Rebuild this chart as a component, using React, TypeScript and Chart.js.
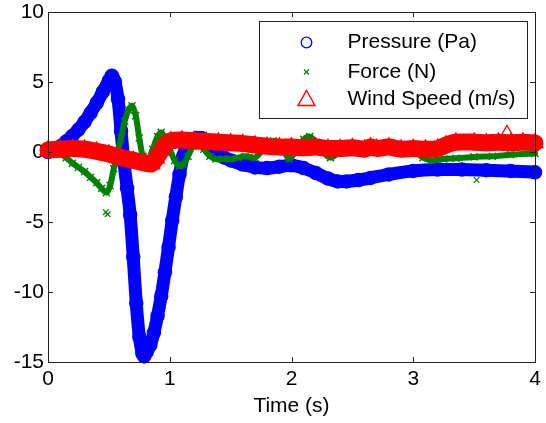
import React, { useEffect, useRef } from 'react';
import { Chart, registerables } from 'chart.js';

Chart.register(...registerables);

// ---------------- data ----------------
const pressureTime = [0, 0.05, 0.1, 0.15, 0.2, 0.25, 0.3, 0.35, 0.4, 0.45, 0.5, 0.525, 0.55, 0.575, 0.6, 0.625, 0.65, 0.675, 0.7, 0.725, 0.75, 0.775, 0.79, 0.81, 0.84, 0.87, 0.9, 0.93, 0.96, 0.99, 1.02, 1.05, 1.08, 1.11, 1.14, 1.18, 1.22, 1.26, 1.3, 1.35, 1.4, 1.45, 1.5, 1.6, 1.7, 1.8, 1.9, 2.0, 2.1, 2.2, 2.3, 2.38, 2.45, 2.55, 2.65, 2.8, 3.0, 3.2, 3.4, 3.6, 3.8, 4.0];
const pressureValue = [0, 0.15, 0.4, 0.75, 1.15, 1.6, 2.15, 2.8, 3.5, 4.3, 5.1, 5.45, 5.0, 3.8, 1.5, -0.8, -2.6, -4.5, -7.5, -10.8, -13.2, -14.4, -14.6, -14.3, -13.8, -12.9, -11.7, -10.3, -8.6, -6.8, -4.9, -3.2, -1.6, -0.3, 0.5, 0.9, 1.0, 1.0, 0.7, 0.3, -0.2, -0.4, -0.6, -0.9, -1.1, -1.15, -1.05, -0.95, -1.15, -1.5, -1.9, -2.1, -2.1, -2.0, -1.85, -1.6, -1.35, -1.25, -1.25, -1.3, -1.35, -1.45];

const forceTime = [0, 0.05, 0.1, 0.15, 0.2, 0.25, 0.3, 0.35, 0.4, 0.44, 0.48, 0.51, 0.54, 0.57, 0.6, 0.63, 0.66, 0.69, 0.72, 0.75, 0.78, 0.82, 0.86, 0.9, 0.93, 0.96, 1.0, 1.04, 1.08, 1.11, 1.15, 1.19, 1.23, 1.28, 1.33, 1.38, 1.44, 1.5, 1.56, 1.62, 1.7, 1.78, 1.85, 1.92, 1.98, 2.05, 2.1, 2.15, 2.2, 2.26, 2.32, 2.4, 2.5, 2.6, 2.7, 2.8, 2.9, 3.0, 3.08, 3.15, 3.25, 3.35, 3.5, 3.65, 3.8, 4.0];
const forceValue = [0, 0, -0.1, -0.4, -0.8, -1.1, -1.4, -1.8, -2.2, -2.6, -2.9, -2.4, -1.2, 0.0, 1.0, 2.2, 3.0, 3.3, 2.6, 1.0, -0.3, -0.6, 0.2, 1.1, 1.4, 1.0, 0.2, -0.6, -1.0, -0.9, -0.3, 0.4, 0.6, 0.2, -0.3, -0.5, -0.5, -0.5, -0.4, -0.3, -0.4, 0.3, 0.8, 0.4, -0.5, 0.3, 0.9, 1.1, 0.7, 0.0, -0.4, 0.0, 0.3, 0.4, 0.4, 0.3, 0.3, 0.1, -0.4, -0.6, -0.5, -0.45, -0.35, -0.3, -0.2, -0.1];
const forceOutlierTime = [0.475, 0.49, 3.52];
const forceOutlierValue = [-4.3, -4.45, -2.0];

const windTime = [0, 0.1, 0.2, 0.3, 0.4, 0.5, 0.6, 0.7, 0.8, 0.85, 0.89, 0.93, 0.97, 1.01, 1.1, 1.2, 1.3, 1.4, 1.5, 1.6, 1.7, 1.8, 1.9, 2.0, 2.1, 2.2, 2.3, 2.4, 2.5, 2.6, 2.65, 2.7, 2.8, 2.9, 3.0, 3.1, 3.2, 3.27, 3.35, 3.5, 3.6, 3.7, 3.8, 3.9, 4.0];
const windValue = [0.15, 0.2, 0.25, 0.2, 0.05, -0.15, -0.4, -0.6, -0.8, -0.85, -0.45, 0.1, 0.6, 0.8, 0.85, 0.8, 0.75, 0.7, 0.65, 0.6, 0.5, 0.4, 0.35, 0.35, 0.3, 0.35, 0.25, 0.25, 0.3, 0.2, 0.35, 0.25, 0.35, 0.2, 0.25, 0.2, 0.25, 0.5, 0.7, 0.7, 0.65, 0.7, 0.65, 0.7, 0.65];
const windOutlierTime = [3.77];
const windOutlierValue = [1.4];

const xTicks = [0, 1, 2, 3, 4];
const yTicks = [-15, -10, -5, 0, 5, 10];

const legendLabels = ['Pressure (Pa)', 'Force (N)', 'Wind Speed (m/s)'];

// ---------------- styles ----------------
const FONT = '"Liberation Sans", Arial, Helvetica, sans-serif';
const BLUE = '#0000ff';
const GREEN = '#008000';
const RED = '#ff0000';

const pts = (t: number[], v: number[]) => t.map((x, i) => ({ x, y: v[i] }));

const frameAndLegend = {
  id: 'frameAndLegend',
  afterDatasetsDraw(chart: any) {
    const { ctx, chartArea: a, scales } = chart;
    ctx.save();
    // axes box
    ctx.strokeStyle = '#222';
    ctx.lineWidth = 1;
    ctx.strokeRect(Math.round(a.left) + 0.5, Math.round(a.top) + 0.5, Math.round(a.right - a.left), Math.round(a.bottom - a.top));
    // inward ticks on all sides
    const tl = 5;
    ctx.beginPath();
    xTicks.forEach((v) => {
      const x = Math.round(scales.x.getPixelForValue(v)) + 0.5;
      ctx.moveTo(x, a.bottom);
      ctx.lineTo(x, a.bottom - tl);
      ctx.moveTo(x, a.top);
      ctx.lineTo(x, a.top + tl);
    });
    yTicks.forEach((v) => {
      const y = Math.round(scales.y.getPixelForValue(v)) + 0.5;
      ctx.moveTo(a.left, y);
      ctx.lineTo(a.left + tl, y);
      ctx.moveTo(a.right, y);
      ctx.lineTo(a.right - tl, y);
    });
    ctx.stroke();

    // legend box
    const bw = 268;
    const bh = 97;
    const bx = Math.round(a.right - 8 - bw) + 0.5;
    const by = Math.round(a.top + 9) + 0.5;
    ctx.fillStyle = '#fff';
    ctx.fillRect(bx, by, bw, bh);
    ctx.strokeStyle = '#222';
    ctx.lineWidth = 1;
    ctx.strokeRect(bx, by, bw, bh);

    const mx = bx + 47;
    const tx = bx + 88;
    const rows = [by + 21, by + 50.5, by + 78];

    // pressure marker: hollow circle
    ctx.strokeStyle = BLUE;
    ctx.lineWidth = 1.3;
    ctx.beginPath();
    ctx.arc(mx, rows[0], 5.3, 0, Math.PI * 2);
    ctx.stroke();
    // force marker: small x
    ctx.strokeStyle = GREEN;
    ctx.lineWidth = 1.2;
    ctx.beginPath();
    ctx.moveTo(mx - 2.5, rows[1] - 2.5);
    ctx.lineTo(mx + 2.5, rows[1] + 2.5);
    ctx.moveTo(mx + 2.5, rows[1] - 2.5);
    ctx.lineTo(mx - 2.5, rows[1] + 2.5);
    ctx.stroke();
    // wind marker: hollow triangle
    ctx.strokeStyle = RED;
    ctx.lineWidth = 1.4;
    ctx.beginPath();
    ctx.moveTo(mx, rows[2] - 9);
    ctx.lineTo(mx + 8.5, rows[2] + 6);
    ctx.lineTo(mx - 8.5, rows[2] + 6);
    ctx.closePath();
    ctx.stroke();

    ctx.fillStyle = '#000';
    ctx.font = `21px ${FONT}`;
    ctx.textAlign = 'left';
    ctx.textBaseline = 'middle';
    legendLabels.forEach((label, i) => ctx.fillText(label, tx, rows[i]));
    ctx.restore();
  },
};

export default function App() {
  const ref = useRef<HTMLCanvasElement | null>(null);

  useEffect(() => {
    if (!ref.current) return;
    const chart = new Chart(ref.current, {
      type: 'line',
      data: {
        datasets: [
          {
            label: legendLabels[0],
            data: pts(pressureTime, pressureValue),
            borderColor: BLUE,
            borderWidth: 13,
            borderCapStyle: 'round',
            borderJoinStyle: 'round',
            pointStyle: 'circle',
            pointRadius: 6.5,
            pointBorderWidth: 1.5,
            pointBorderColor: BLUE,
            pointBackgroundColor: 'rgba(255,255,255,0)',
            tension: 0.3,
            fill: false,
            clip: false,
            order: 3,
          } as any,
          {
            label: legendLabels[1],
            data: pts(forceTime, forceValue),
            borderColor: GREEN,
            borderWidth: 6,
            borderCapStyle: 'round',
            borderJoinStyle: 'round',
            pointStyle: 'crossRot',
            pointRadius: 5,
            pointBorderWidth: 1.4,
            pointBorderColor: GREEN,
            tension: 0.3,
            fill: false,
            clip: false,
            order: 2,
          } as any,
          {
            label: 'force outliers',
            data: pts(forceOutlierTime, forceOutlierValue),
            showLine: false,
            pointStyle: 'crossRot',
            pointRadius: 4,
            pointBorderWidth: 1.2,
            pointBorderColor: GREEN,
            clip: false,
            order: 2,
          } as any,
          {
            label: legendLabels[2],
            data: pts(windTime, windValue),
            borderColor: RED,
            borderWidth: 17,
            borderCapStyle: 'round',
            borderJoinStyle: 'round',
            pointStyle: 'triangle',
            pointRadius: 9,
            pointBorderWidth: 1.5,
            pointBorderColor: RED,
            pointBackgroundColor: 'rgba(255,255,255,0)',
            tension: 0.3,
            fill: false,
            clip: false,
            order: 1,
          } as any,
          {
            label: 'wind outliers',
            data: pts(windOutlierTime, windOutlierValue),
            showLine: false,
            pointStyle: 'triangle',
            pointRadius: 7,
            pointBorderWidth: 1.2,
            pointBorderColor: RED,
            pointBackgroundColor: 'rgba(255,255,255,0)',
            clip: false,
            order: 1,
          } as any,
        ],
      },
      options: {
        animation: false,
        responsive: false,
        devicePixelRatio: 1,
        layout: { padding: { left: 0, right: 11, top: 12, bottom: 0 } },
        plugins: {
          legend: { display: false },
          tooltip: { enabled: false },
        },
        events: [],
        scales: {
          x: {
            type: 'linear',
            min: 0,
            max: 4,
            afterBuildTicks: (s: any) => {
              s.ticks = xTicks.map((v) => ({ value: v }));
            },
            ticks: {
              color: '#000',
              font: { family: FONT, size: 21 },
              padding: 5,
              maxRotation: 0,
              autoSkip: false,
            },
            grid: { display: false, drawTicks: false },
            border: { display: false },
            title: {
              display: true,
              text: 'Time (s)',
              color: '#000',
              font: { family: FONT, size: 21 },
              padding: { top: 0, bottom: 4.5 },
            },
            afterFit: (s: any) => {
              s.height = 61;
              s.paddingLeft = 0;
              s.paddingRight = 0;
            },
          },
          y: {
            type: 'linear',
            min: -15,
            max: 10,
            afterBuildTicks: (s: any) => {
              s.ticks = yTicks.map((v) => ({ value: v }));
            },
            ticks: {
              color: '#000',
              font: { family: FONT, size: 21 },
              padding: 4,
              autoSkip: false,
            },
            grid: { display: false, drawTicks: false },
            border: { display: false },
            afterFit: (s: any) => {
              s.width = 48;
              s.paddingTop = 0;
              s.paddingBottom = 0;
            },
          },
        },
      } as any,
      plugins: [frameAndLegend],
    });
    return () => chart.destroy();
  }, []);

  return (
    <div style={{ position: 'absolute', left: 0, top: 0, width: 546, height: 423, background: '#fff' }}>
      <canvas ref={ref} width={546} height={423} style={{ display: 'block', width: 546, height: 423 }} />
    </div>
  );
}
